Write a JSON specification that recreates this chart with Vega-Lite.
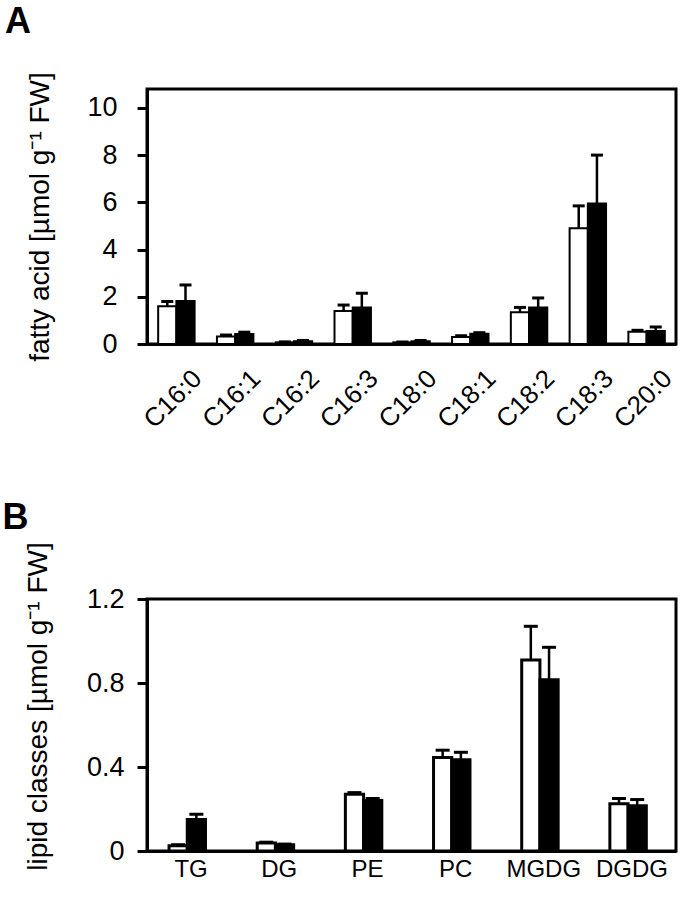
{
  "$schema": "https://vega.github.io/schema/vega-lite/v6.json",
  "background": "white",
  "padding": {"left": 0, "top": 2, "right": 2, "bottom": 2},
  "spacing": 64,
  "config": {
    "font": "Liberation Sans",
    "view": {"stroke": "black", "strokeWidth": 3},
    "axis": {"domainColor": "black", "domainWidth": 3, "tickColor": "black", "tickWidth": 3, "labelColor": "black", "titleColor": "black", "titleFontWeight": "normal", "grid": false, "labelFont": "Liberation Sans", "titleFont": "Liberation Sans"},
    "axisY": {"labelFontSize": 27, "titleFontSize": 28, "tickSize": 10},
    "title": {"font": "Liberation Sans", "fontWeight": "bold", "fontSize": 36, "anchor": "start", "color": "black"}
  },
  "datasets": {
    "fa": [
      {"cat": "C16:0", "series": "control", "mean": 1.6, "upper": 1.8},
      {"cat": "C16:0", "series": "treatment", "mean": 1.82, "upper": 2.5},
      {"cat": "C16:1", "series": "control", "mean": 0.32, "upper": 0.38},
      {"cat": "C16:1", "series": "treatment", "mean": 0.42, "upper": 0.5},
      {"cat": "C16:2", "series": "control", "mean": 0.07, "upper": 0.09},
      {"cat": "C16:2", "series": "treatment", "mean": 0.12, "upper": 0.15},
      {"cat": "C16:3", "series": "control", "mean": 1.4, "upper": 1.65},
      {"cat": "C16:3", "series": "treatment", "mean": 1.55, "upper": 2.15},
      {"cat": "C18:0", "series": "control", "mean": 0.07, "upper": 0.09},
      {"cat": "C18:0", "series": "treatment", "mean": 0.12, "upper": 0.15},
      {"cat": "C18:1", "series": "control", "mean": 0.3, "upper": 0.35},
      {"cat": "C18:1", "series": "treatment", "mean": 0.43, "upper": 0.48},
      {"cat": "C18:2", "series": "control", "mean": 1.35, "upper": 1.55},
      {"cat": "C18:2", "series": "treatment", "mean": 1.55, "upper": 1.95},
      {"cat": "C18:3", "series": "control", "mean": 4.9, "upper": 5.85},
      {"cat": "C18:3", "series": "treatment", "mean": 5.95, "upper": 8.0},
      {"cat": "C20:0", "series": "control", "mean": 0.52, "upper": 0.58},
      {"cat": "C20:0", "series": "treatment", "mean": 0.55, "upper": 0.72}
    ],
    "lc": [
      {"cat": "TG", "series": "control", "mean": 0.025, "upper": 0.03},
      {"cat": "TG", "series": "treatment", "mean": 0.15, "upper": 0.175},
      {"cat": "DG", "series": "control", "mean": 0.038, "upper": 0.042},
      {"cat": "DG", "series": "treatment", "mean": 0.03, "upper": 0.033},
      {"cat": "PE", "series": "control", "mean": 0.27, "upper": 0.278},
      {"cat": "PE", "series": "treatment", "mean": 0.24, "upper": 0.25},
      {"cat": "PC", "series": "control", "mean": 0.445, "upper": 0.48},
      {"cat": "PC", "series": "treatment", "mean": 0.435, "upper": 0.47},
      {"cat": "MGDG", "series": "control", "mean": 0.91, "upper": 1.07},
      {"cat": "MGDG", "series": "treatment", "mean": 0.815, "upper": 0.97},
      {"cat": "DGDG", "series": "control", "mean": 0.225, "upper": 0.25},
      {"cat": "DGDG", "series": "treatment", "mean": 0.215, "upper": 0.245}
    ]
  },
  "vconcat": [
    {
      "title": {"text": "A", "dx": -22, "offset": 31},
      "width": 529,
      "height": 255,
      "data": {"name": "fa"},
      "encoding": {
        "x": {"field": "cat", "type": "nominal", "sort": null,
          "scale": {"paddingInner": 0.38, "paddingOuter": 0.19},
          "axis": {"title": null, "labelAngle": -45, "labelFontSize": 26, "ticks": false, "labelPadding": 21, "labelOffset": 12}},
        "xOffset": {"field": "series", "type": "nominal", "sort": ["control", "treatment"], "scale": {"paddingInner": 0.0}}
      },
      "layer": [
        {
          "mark": {"type": "bar", "stroke": "black", "strokeWidth": 2},
          "encoding": {
            "y": {"field": "mean", "type": "quantitative",
              "scale": {"domain": [0, 10.8], "nice": false},
              "axis": {"values": [0, 2, 4, 6, 8, 10], "title": "fatty acid [µmol g⁻¹ FW]", "labelPadding": 20, "titlePadding": 32}},
            "fill": {"field": "series", "type": "nominal", "scale": {"domain": ["control", "treatment"], "range": ["white", "black"]}, "legend": null}
          }
        },
        {
          "mark": {"type": "rule", "color": "black", "strokeWidth": 2.5},
          "encoding": {
            "y": {"field": "mean", "type": "quantitative"},
            "y2": {"field": "upper"}
          }
        },
        {
          "mark": {"type": "tick", "color": "black", "thickness": 3, "size": 12, "opacity": 1},
          "encoding": {
            "y": {"field": "upper", "type": "quantitative"}
          }
        }
      ]
    },
    {
      "title": {"text": "B", "dx": -22, "offset": 5},
      "width": 529,
      "height": 252,
      "data": {"name": "lc"},
      "encoding": {
        "x": {"field": "cat", "type": "nominal", "sort": null,
          "scale": {"paddingInner": 0.5, "paddingOuter": 0.25},
          "axis": {"title": null, "labelAngle": 0, "labelFontSize": 24, "ticks": false, "labelPadding": 6}},
        "xOffset": {"field": "series", "type": "nominal", "sort": ["control", "treatment"], "scale": {"paddingInner": 0.15}}
      },
      "layer": [
        {
          "mark": {"type": "bar", "stroke": "black", "strokeWidth": 3},
          "encoding": {
            "y": {"field": "mean", "type": "quantitative",
              "scale": {"domain": [0, 1.2], "nice": false},
              "axis": {"values": [0, 0.4, 0.8, 1.2], "format": ".1~f", "title": "lipid classes [µmol g⁻¹ FW]", "labelPadding": 13, "titlePadding": 34, "titleY": 107}},
            "fill": {"field": "series", "type": "nominal", "scale": {"domain": ["control", "treatment"], "range": ["white", "black"]}, "legend": null}
          }
        },
        {
          "mark": {"type": "rule", "color": "black", "strokeWidth": 2.5},
          "encoding": {
            "y": {"field": "mean", "type": "quantitative"},
            "y2": {"field": "upper"}
          }
        },
        {
          "mark": {"type": "tick", "color": "black", "thickness": 3, "size": 14, "opacity": 1},
          "encoding": {
            "y": {"field": "upper", "type": "quantitative"}
          }
        }
      ]
    }
  ]
}
